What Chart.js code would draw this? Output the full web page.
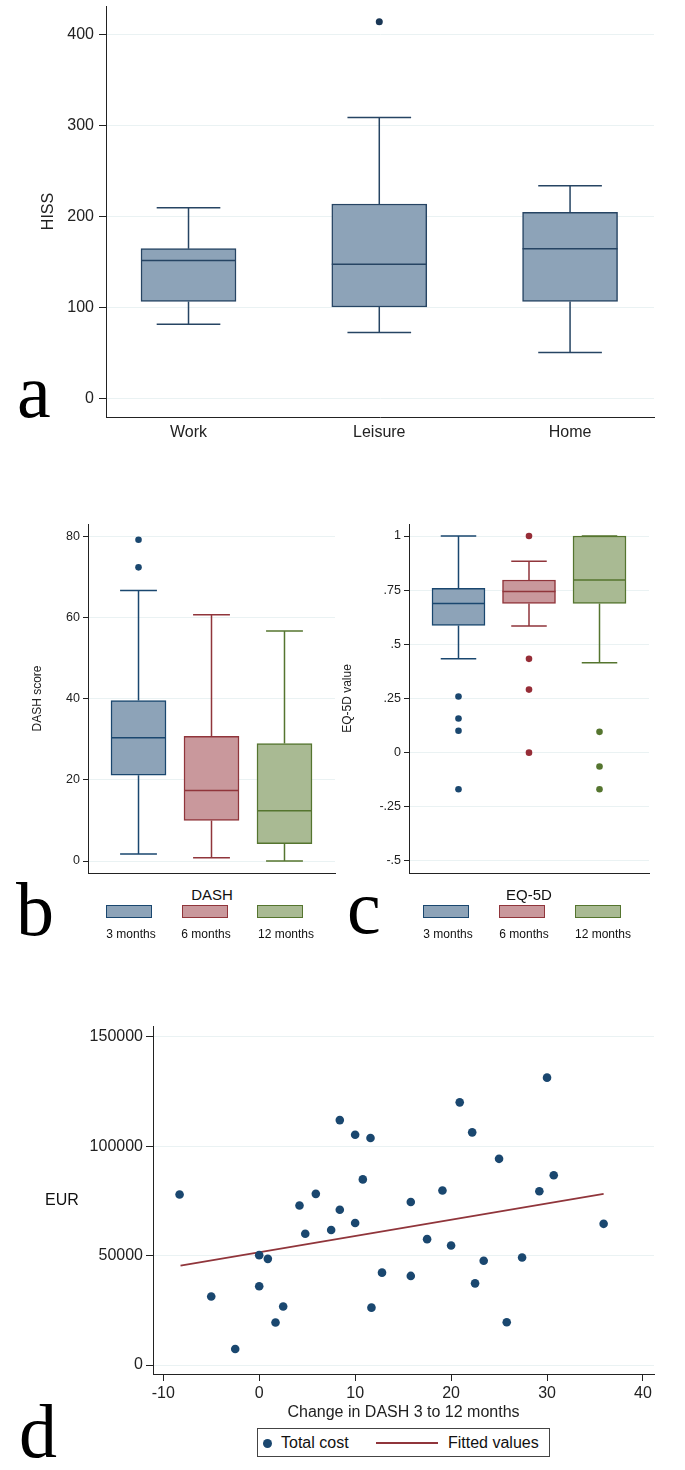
<!DOCTYPE html>
<html>
<head>
<meta charset="utf-8">
<script src="https://cdn.jsdelivr.net/npm/chart.js@4.4.1/dist/chart.umd.min.js"></script>
<style>
  body { margin: 0; background: #fff; }
  #page { position: relative; width: 685px; height: 1470px; overflow: hidden;
          font-family: 'Liberation Sans', Arial, sans-serif; color: #111; }
  canvas { position: absolute; }
  .tag { position: absolute; font-family: 'Liberation Serif', 'Times New Roman', serif;
         font-size: 76px; line-height: 76px; color: #000; }
  .txt { position: absolute; white-space: nowrap; transform: translate(-50%, -50%); }
  .sw { position: absolute; box-sizing: border-box; border: 1.5px solid; }
</style>
</head>
<body>
<div id="page">
  <canvas id="cA" width="685" height="460" style="left:0;top:0"></canvas>
  <canvas id="cB" width="345" height="390" style="left:0;top:490px"></canvas>
  <canvas id="cC" width="350" height="390" style="left:335px;top:490px"></canvas>
  <canvas id="cD" width="685" height="425" style="left:0;top:1000px"></canvas>

  <div class="tag" style="left:17px;top:353px">a</div>
  <div class="tag" style="left:16px;top:871px">b</div>
  <div class="tag" style="left:347px;top:869px">c</div>
  <div class="tag" style="left:19px;top:1393px">d</div>

  <div class="txt" style="left:62px;top:1200px;font-size:16px">EUR</div>
  <div id="legD" style="position:absolute;left:257px;top:1428px;width:293px;height:29px;box-sizing:border-box;border:1px solid #444;font-size:16px">
    <div style="position:absolute;left:5px;top:10px;width:9px;height:9px;border-radius:50%;background:rgb(26,71,111)"></div>
    <div style="position:absolute;left:23px;top:5px">Total cost</div>
    <div style="position:absolute;left:118px;top:13px;width:62px;height:2px;background:rgb(144,53,59)"></div>
    <div style="position:absolute;left:190px;top:5px">Fitted values</div>
  </div>
</div>
<script>
// panel a: HISS by setting
const hissCats = ['Work', 'Leisure', 'Home'];
const hissLo  = [82, 73, 51];
const hissQ1  = [107, 101, 107];
const hissMed = [152, 148, 165];
const hissQ3  = [165, 214, 205];
const hissHi  = [210, 309, 234];
const hissOut = [[], [414], []];
const hissTicks = [0, 100, 200, 300, 400];

// panel b: DASH score at follow-up
const timeCats = ['3 months', '6 months', '12 months'];
const dashLo  = [1.7, 0.8, 0];
const dashQ1  = [21.2, 10.0, 4.3];
const dashMed = [30.4, 17.4, 12.4];
const dashQ3  = [39.6, 30.8, 29.0];
const dashHi  = [66.8, 60.8, 56.8];
const dashOut = [[72.5, 79.3], [], []];
const dashTicks = [0, 20, 40, 60, 80];

// panel c: EQ-5D value at follow-up
const eqLo  = [0.433, 0.585, 0.415];
const eqQ1  = [0.587, 0.689, 0.689];
const eqMed = [0.689, 0.744, 0.797];
const eqQ3  = [0.758, 0.797, 1.0];
const eqHi  = [1.0, 0.883, 1.0];
const eqOut = [[0.259, 0.158, 0.101, -0.169], [1.0, 0.433, 0.291, 0], [0.096, -0.064, -0.169]];
const eqTicks = [-0.5, -0.25, 0, 0.25, 0.5, 0.75, 1];
const eqTickLabels = ['-.5', '-.25', '0', '.25', '.5', '.75', '1'];

// panel d: total cost vs change in DASH
const dashChange = [-8.3, -5.0, -2.5, 0.0, 0.0, 0.9, 1.7, 2.5, 4.2, 4.8, 5.9, 7.5, 8.4, 8.4, 10.0, 10.0, 10.8, 11.6,
                    11.7, 12.8, 15.8, 15.8, 17.5, 19.1, 20.0, 20.9, 22.2, 22.5, 23.4, 25.0, 25.8, 27.4, 29.2, 30.0, 30.7, 35.9];
const totalCost = [77900, 31300, 7300, 50200, 36000, 48500, 19400, 26700, 72900, 60000, 78200, 61700, 70900, 111900,
                   105200, 64900, 84800, 103700, 26200, 42200, 74500, 40700, 57500, 79700, 54600, 120000, 106300, 37300,
                   47600, 94200, 19500, 49100, 79400, 131300, 86700, 64500];
const fitX = [-8.2, 35.9];
const fitY = [45400, 78200];
const costTicks = [0, 50000, 100000, 150000];
const changeTicks = [-10, 0, 10, 20, 30, 40];

const SANS = "'Liberation Sans', Arial, sans-serif";
const GRID = 'rgb(234,242,243)';
const AXIS = '#222';
const navy = 'rgb(26,71,111)', maroon = 'rgb(144,53,59)', forest = 'rgb(85,117,47)';
const navyFill = 'rgb(141,163,184)', maroonFill = 'rgb(201,152,156)', forestFill = 'rgb(169,186,147)';

Chart.defaults.animation = false;
Chart.defaults.events = [];
Chart.defaults.plugins.legend.display = false;
Chart.defaults.plugins.tooltip.enabled = false;

// whiskers, caps and median lines, drawn from the bar elements and the y scale
function whiskers(lo, med, hi, colors, capRatio) {
  return {
    id: 'whiskers',
    afterDatasetsDraw(chart) {
      const ctx = chart.ctx, y = chart.scales.y;
      const bars = chart.getDatasetMeta(0).data;
      ctx.save();
      ctx.lineWidth = 1.5;
      bars.forEach((bar, i) => {
        const half = bar.width / 2, cap = half * capRatio;
        const top = Math.min(bar.y, bar.base), bot = Math.max(bar.y, bar.base);
        const yHi = y.getPixelForValue(hi[i]), yLo = y.getPixelForValue(lo[i]), yMed = y.getPixelForValue(med[i]);
        ctx.strokeStyle = colors[i];
        ctx.beginPath();
        ctx.moveTo(bar.x, top); ctx.lineTo(bar.x, yHi);
        ctx.moveTo(bar.x - cap, yHi); ctx.lineTo(bar.x + cap, yHi);
        ctx.moveTo(bar.x, bot); ctx.lineTo(bar.x, yLo);
        ctx.moveTo(bar.x - cap, yLo); ctx.lineTo(bar.x + cap, yLo);
        ctx.moveTo(bar.x - half, yMed); ctx.lineTo(bar.x + half, yMed);
        ctx.stroke();
      });
      ctx.restore();
    }
  };
}

function boxPlot(id, o) {
  const pts = [], ptCol = [];
  o.out.forEach((vals, i) => vals.forEach(v => { pts.push({ x: i + 1, y: v }); ptCol.push(o.dotColors[i]); }));
  return new Chart(document.getElementById(id), {
    type: 'bar',
    data: {
      datasets: [{
        data: o.q1.map((v, i) => ({ x: i + 1, y: [v, o.q3[i]] })),
        backgroundColor: o.fills, borderColor: o.lines, borderWidth: 1.5,
        borderSkipped: false, barThickness: o.barW
      }, {
        type: 'scatter', data: pts,
        pointRadius: o.dot, pointBackgroundColor: ptCol, pointBorderWidth: 0
      }]
    },
    plugins: [whiskers(o.lo, o.med, o.hi, o.lines, 0.67)],
    options: {
      responsive: false,
      layout: { padding: o.pad },
      scales: {
        x: {
          type: 'linear', offset: false, min: o.xMin, max: o.xMax,
          afterBuildTicks: s => { s.ticks = o.cats.map((c, i) => ({ value: i + 1 })); },
          afterFit: s => { s.height = o.xH; s.paddingLeft = 0; s.paddingRight = 0; },
          grid: { display: false, drawTicks: false, offset: false },
          border: { display: true, color: AXIS, width: 1 },
          ticks: {
            display: o.showCats, padding: o.catPad, color: AXIS,
            font: { family: SANS, size: o.catSize },
            callback: v => o.cats[v - 1]
          }
        },
        y: {
          min: o.yMin, max: o.yMax,
          afterBuildTicks: s => { s.ticks = o.ticks.map(v => ({ value: v })); },
          afterFit: s => { s.width = o.yW; s.paddingTop = 0; s.paddingBottom = 0; },
          grid: { color: GRID, lineWidth: 1, tickColor: AXIS, tickLength: o.tickLen },
          border: { display: true, color: AXIS, width: 1 },
          ticks: {
            padding: o.tickPad, color: AXIS, font: { family: SANS, size: o.tickSize },
            callback: o.tickFmt || (v => String(v))
          },
          title: { display: true, text: o.yTitle, color: AXIS, padding: 0, font: { family: SANS, size: o.titleSize } }
        }
      }
    }
  });
}

boxPlot('cA', {
  cats: hissCats, lo: hissLo, q1: hissQ1, med: hissMed, q3: hissQ3, hi: hissHi, out: hissOut, ticks: hissTicks,
  fills: [navyFill, navyFill, navyFill], lines: ['rgb(38,68,99)', 'rgb(38,68,99)', 'rgb(38,68,99)'],
  dotColors: ['rgb(26,55,85)', 'rgb(26,55,85)', 'rgb(26,55,85)'], dot: 3.5, barW: 95,
  xMin: 0.5675, xMax: 3.44, yMin: -19.8, yMax: 431.4,
  pad: { left: 39, top: 6, right: 31, bottom: 0 }, yW: 67, xH: 43,
  showCats: true, catPad: 6, catSize: 16, tickSize: 16, tickLen: 7, tickPad: 5, titleSize: 16, yTitle: 'HISS'
});

boxPlot('cB', {
  cats: timeCats, lo: dashLo, q1: dashQ1, med: dashMed, q3: dashQ3, hi: dashHi, out: dashOut, ticks: dashTicks,
  fills: [navyFill, maroonFill, forestFill], lines: [navy, maroon, forest],
  dotColors: [navy, maroon, forest], dot: 3.3, barW: 55,
  xMin: 0.308, xMax: 3.692, yMin: -2.96, yMax: 83.2,
  pad: { left: 30, top: 34, right: 10, bottom: 0 }, yW: 58, xH: 7,
  showCats: false, catPad: 0, catSize: 12, tickSize: 12.5, tickLen: 5, tickPad: 3, titleSize: 12, yTitle: 'DASH score'
});

boxPlot('cC', {
  cats: timeCats, lo: eqLo, q1: eqQ1, med: eqMed, q3: eqQ3, hi: eqHi, out: eqOut, ticks: eqTicks,
  fills: [navyFill, maroonFill, forestFill], lines: [navy, maroon, forest],
  dotColors: [navy, 'rgb(150,45,55)', forest], dot: 3.3, barW: 53,
  xMin: 0.298, xMax: 3.702, yMin: -0.5554, yMax: 1.0554,
  pad: { left: 5, top: 34, right: 36, bottom: 0 }, yW: 69, xH: 7,
  showCats: false, catPad: 0, catSize: 12, tickSize: 12.5, tickLen: 5, tickPad: 3, titleSize: 12, yTitle: 'EQ-5D value',
  tickFmt: v => eqTickLabels[eqTicks.indexOf(v)]
});

new Chart(document.getElementById('cD'), {
  type: 'scatter',
  data: {
    datasets: [{
      data: dashChange.map((x, i) => ({ x: x, y: totalCost[i] })),
      pointRadius: 4.3, pointBackgroundColor: navy, pointBorderWidth: 0
    }, {
      type: 'line', data: fitX.map((x, i) => ({ x: x, y: fitY[i] })),
      borderColor: maroon, borderWidth: 1.6, pointRadius: 0, fill: false
    }]
  },
  options: {
    responsive: false,
    layout: { padding: { left: 0, top: 26, right: 31, bottom: 0 } },
    scales: {
      x: {
        type: 'linear', min: -11.07, max: 41.15,
        afterBuildTicks: s => { s.ticks = changeTicks.map(v => ({ value: v })); },
        afterFit: s => { s.height = 51; s.paddingLeft = 0; s.paddingRight = 0; },
        grid: { drawOnChartArea: false, tickColor: AXIS, tickLength: 7 },
        border: { display: true, color: AXIS, width: 1 },
        ticks: { padding: 3, color: AXIS, font: { family: SANS, size: 16 }, callback: v => String(v) },
        title: { display: true, text: 'Change in DASH 3 to 12 months', color: AXIS,
                 padding: { top: 0, bottom: 3 }, font: { family: SANS, size: 16 } }
      },
      y: {
        min: -4112, max: 154890,
        afterBuildTicks: s => { s.ticks = costTicks.map(v => ({ value: v })); },
        afterFit: s => { s.width = 153; s.paddingTop = 0; s.paddingBottom = 0; },
        grid: { color: GRID, tickColor: AXIS, tickLength: 7 },
        border: { display: true, color: AXIS, width: 1 },
        ticks: { padding: 3, color: AXIS, font: { family: SANS, size: 16 }, callback: v => String(v) }
      }
    }
  }
});

// legends under panels b and c
function legend(title, cx, swLeft, labCx, fills, lines) {
  const page = document.getElementById('page');
  const t = document.createElement('div');
  t.className = 'txt'; t.textContent = title;
  t.style.cssText = `left:${cx}px;top:894px;font-size:15px`;
  page.appendChild(t);
  timeCats.forEach((c, i) => {
    const s = document.createElement('div');
    s.className = 'sw';
    s.style.cssText = `left:${swLeft[i]}px;top:905px;width:46px;height:13px;background:${fills[i]};border-color:${lines[i]}`;
    page.appendChild(s);
    const l = document.createElement('div');
    l.className = 'txt'; l.textContent = c;
    l.style.cssText = `left:${labCx[i]}px;top:934px;font-size:12px`;
    page.appendChild(l);
  });
}
legend('DASH', 212, [106, 182, 257], [131, 206, 286], [navyFill, maroonFill, forestFill], [navy, maroon, forest]);
legend('EQ-5D', 529, [423, 499, 575], [448, 524, 603], [navyFill, maroonFill, forestFill], [navy, maroon, forest]);
</script>
</body>
</html>
